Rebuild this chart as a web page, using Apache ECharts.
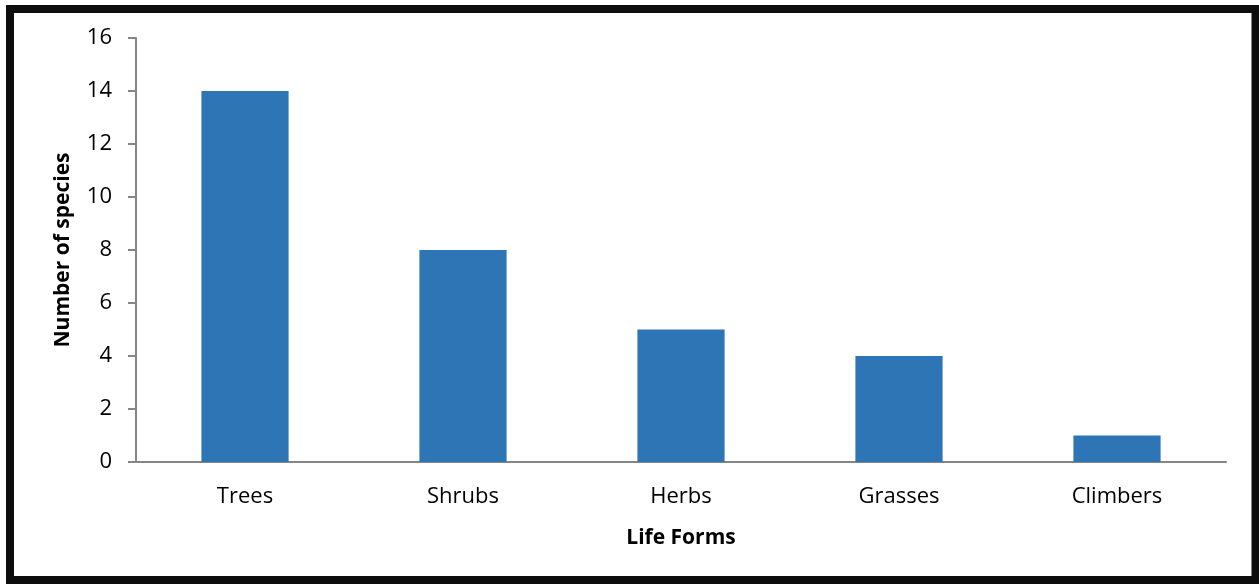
<!DOCTYPE html>
<html>
<head>
<meta charset="utf-8">
<script src="https://cdn.jsdelivr.net/npm/echarts@6/dist/echarts.min.js"></script>
<style>
  html, body { margin: 0; padding: 0; background: #fff; }
  #grafico { width: 1259px; height: 584px; }
</style>
</head>
<body>
<div id="grafico"></div>
<script>
// datos
const categories = ["Trees", "Shrubs", "Herbs", "Grasses", "Climbers"];
const speciesCount = [14, 8, 5, 4, 1];

const font = "Open Sans, Noto Sans, sans-serif";

let options = {
  animation: false,
  grid: { left: 136, right: 33, top: 38, bottom: 122 },
  graphic: [
    {
      type: "rect",
      shape: { x: 10, y: 9, width: 1245.5, height: 571 },
      style: { fill: "none", stroke: "#0d0d0d", lineWidth: 8 }
    }
  ],
  xAxis: {
    type: "category",
    data: categories,
    name: "Life Forms",
    nameLocation: "middle",
    nameGap: 66,
    nameTextStyle: { fontFamily: font, fontSize: 21, fontWeight: "bold", color: "#000" },
    axisLine: { lineStyle: { color: "#868686", width: 2 } },
    axisTick: { length: 8, lineStyle: { color: "#868686", width: 2 } },
    axisLabel: { margin: 24, fontFamily: font, fontSize: 22, color: "#000" }
  },
  yAxis: {
    type: "value",
    min: 0,
    max: 16,
    interval: 2,
    name: "Number of species",
    nameLocation: "middle",
    nameGap: 62,
    nameTextStyle: { fontFamily: font, fontSize: 21, fontWeight: "bold", color: "#000" },
    splitLine: { show: false },
    axisLine: { show: true, lineStyle: { color: "#868686", width: 2 } },
    axisTick: { show: true, length: 8, lineStyle: { color: "#868686", width: 2 } },
    axisLabel: { margin: 24, fontFamily: font, fontSize: 22, color: "#000" }
  },
  series: [
    {
      type: "bar",
      data: speciesCount,
      barWidth: "40%",
      itemStyle: { color: "#2E75B6" }
    }
  ]
};

let barChart = echarts.init(document.getElementById("grafico"));
barChart.setOption(options);
</script>
</body>
</html>
